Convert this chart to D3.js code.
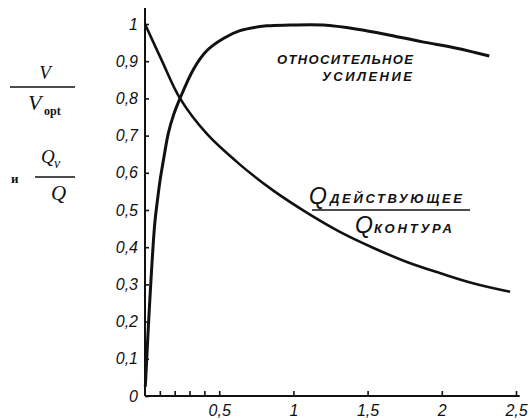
<!DOCTYPE html>
<html lang="ru">
<head>
  <meta charset="UTF-8">
  <title>Относительное усиление</title>
  <script src="https://d3js.org/d3.v7.min.js"></script>
  <style>
    body {
      background: #fff;
      margin: 0;
    }
    .tick text, .hand {
      font-family: 'Liberation Sans', Arial, sans-serif;
      font-style: italic;
      fill: #111;
    }
    .tick text {
      font-size: 16px;
    }
    .hand {
      font-weight: bold;
    }
    .math {
      font-family: 'Liberation Serif', 'Times New Roman', serif;
      fill: #111;
    }
  </style>
</head>
<body>
  <script>
    // relative gain curve V / Vopt
    var gainX = [0.002, 0.009, 0.018, 0.03, 0.043, 0.057, 0.068, 0.084, 0.102, 0.128, 0.157, 0.192, 0.236, 0.326, 0.416, 0.528, 0.64, 0.82, 0.98, 1.2, 1.43, 1.65, 1.87, 2.1, 2.32];
    var gainY = [0.025, 0.079, 0.15, 0.24, 0.33, 0.419, 0.473, 0.527, 0.581, 0.643, 0.706, 0.755, 0.8, 0.878, 0.928, 0.961, 0.982, 0.995, 0.997, 0.997, 0.986, 0.97, 0.952, 0.935, 0.914];

    // Q effective / Q circuit
    var qX = [0, 0.112, 0.236, 0.416, 0.64, 0.865, 1.09, 1.31, 1.54, 1.76, 1.99, 2.21, 2.46];
    var qY = [1, 0.903, 0.8, 0.705, 0.622, 0.552, 0.493, 0.442, 0.398, 0.361, 0.33, 0.303, 0.28];

    var yTicks = [0, 0.1, 0.2, 0.3, 0.4, 0.5, 0.6, 0.7, 0.8, 0.9, 1];
    var xTicks = [0.5, 1, 1.5, 2, 2.5];
    var xMinor = [0.1, 0.2, 0.3, 0.4];

    var width = 532, height = 420;

    var svg = d3.select("body").append("svg")
      .attr("width", width)
      .attr("height", height);

    var x = d3.scaleLinear().domain([0, 2.5]).range([145, 516]);
    var y = d3.scaleLinear().domain([0, 1]).range([396, 24]);

    var fmt = function(d) { return String(d).replace(".", ","); };

    // axis lines
    svg.append("line")
      .attr("x1", x(0)).attr("y1", y(0))
      .attr("x2", x(0)).attr("y2", y(1.043))
      .attr("stroke", "#111").attr("stroke-width", 2);
    svg.append("line")
      .attr("x1", x(0)).attr("y1", y(0))
      .attr("x2", x(2.525)).attr("y2", y(0))
      .attr("stroke", "#111").attr("stroke-width", 2);

    svg.append("g")
      .attr("transform", "translate(" + x(0) + ",0)")
      .call(d3.axisLeft(y).tickValues(yTicks).tickFormat(fmt)
        .tickSizeInner(-4).tickSizeOuter(0).tickPadding(7));

    svg.append("g")
      .attr("transform", "translate(0," + y(0) + ")")
      .call(d3.axisBottom(x).tickValues(xTicks).tickFormat(fmt)
        .tickSizeInner(-5).tickSizeOuter(0).tickPadding(9));

    svg.append("g")
      .attr("transform", "translate(0," + y(0) + ")")
      .call(d3.axisBottom(x).tickValues(xMinor).tickFormat("")
        .tickSizeInner(-5).tickSizeOuter(0));

    svg.selectAll(".domain").remove();
    svg.selectAll(".tick line").attr("stroke", "#111").attr("stroke-width", 1.6);
    svg.selectAll(".tick text").attr("fill", "#111");

    var line = d3.line()
      .x(function(d) { return x(d[0]); })
      .y(function(d) { return y(d[1]); })
      .curve(d3.curveCatmullRom.alpha(0.5));

    svg.append("path")
      .datum(d3.zip(gainX, gainY))
      .attr("d", line)
      .attr("fill", "none")
      .attr("stroke", "#111")
      .attr("stroke-width", 3);

    svg.append("path")
      .datum(d3.zip(qX, qY))
      .attr("d", line)
      .attr("fill", "none")
      .attr("stroke", "#111")
      .attr("stroke-width", 2.6);

    // curve labels
    svg.append("text").classed("hand", true)
      .attr("x", 277).attr("y", 64)
      .attr("font-size", 13).attr("textLength", 136)
      .text("ОТНОСИТЕЛЬНОЕ");
    svg.append("text").classed("hand", true)
      .attr("x", 322).attr("y", 81)
      .attr("font-size", 13).attr("textLength", 90)
      .text("УСИЛЕНИЕ");

    svg.append("text").classed("hand", true)
      .attr("x", 309).attr("y", 204)
      .style("font-size", "23px").style("font-weight", "normal")
      .text("Q");
    svg.append("text").classed("hand", true)
      .attr("x", 330).attr("y", 203)
      .attr("font-size", 13).attr("textLength", 132)
      .text("ДЕЙСТВУЮЩЕЕ");
    svg.append("line")
      .attr("x1", 312).attr("x2", 470)
      .attr("y1", 210).attr("y2", 210)
      .attr("stroke", "#111").attr("stroke-width", 1.4);
    svg.append("text").classed("hand", true)
      .attr("x", 355).attr("y", 233)
      .style("font-size", "23px").style("font-weight", "normal")
      .text("Q");
    svg.append("text").classed("hand", true)
      .attr("x", 374).attr("y", 233)
      .attr("font-size", 13).attr("textLength", 78)
      .text("КОНТУРА");

    // y axis title: V / Vopt  и  Qv / Q
    var title = svg.append("g").classed("math", true);
    title.append("text")
      .attr("x", 45).attr("y", 79)
      .attr("text-anchor", "middle").attr("font-size", 19).attr("font-style", "italic")
      .text("V");
    title.append("line")
      .attr("x1", 10).attr("x2", 75).attr("y1", 87).attr("y2", 87)
      .attr("stroke", "#111").attr("stroke-width", 1.3);
    title.append("text")
      .attr("x", 28).attr("y", 110)
      .attr("font-size", 22).attr("font-style", "italic")
      .text("V");
    title.append("text")
      .attr("x", 44).attr("y", 115)
      .attr("font-size", 12).attr("font-weight", "bold")
      .text("opt");

    title.append("text")
      .attr("x", 11).attr("y", 183)
      .attr("font-size", 13).attr("font-weight", "bold")
      .text("и");
    title.append("text")
      .attr("x", 41).attr("y", 163)
      .attr("font-size", 19).attr("font-style", "italic")
      .text("Q");
    title.append("text")
      .attr("x", 54).attr("y", 168)
      .attr("font-size", 14).attr("font-style", "italic")
      .text("v");
    title.append("line")
      .attr("x1", 35).attr("x2", 75).attr("y1", 177).attr("y2", 177)
      .attr("stroke", "#111").attr("stroke-width", 1.3);
    title.append("text")
      .attr("x", 51).attr("y", 200)
      .attr("font-size", 21).attr("font-style", "italic")
      .text("Q");
  </script>
</body>
</html>
